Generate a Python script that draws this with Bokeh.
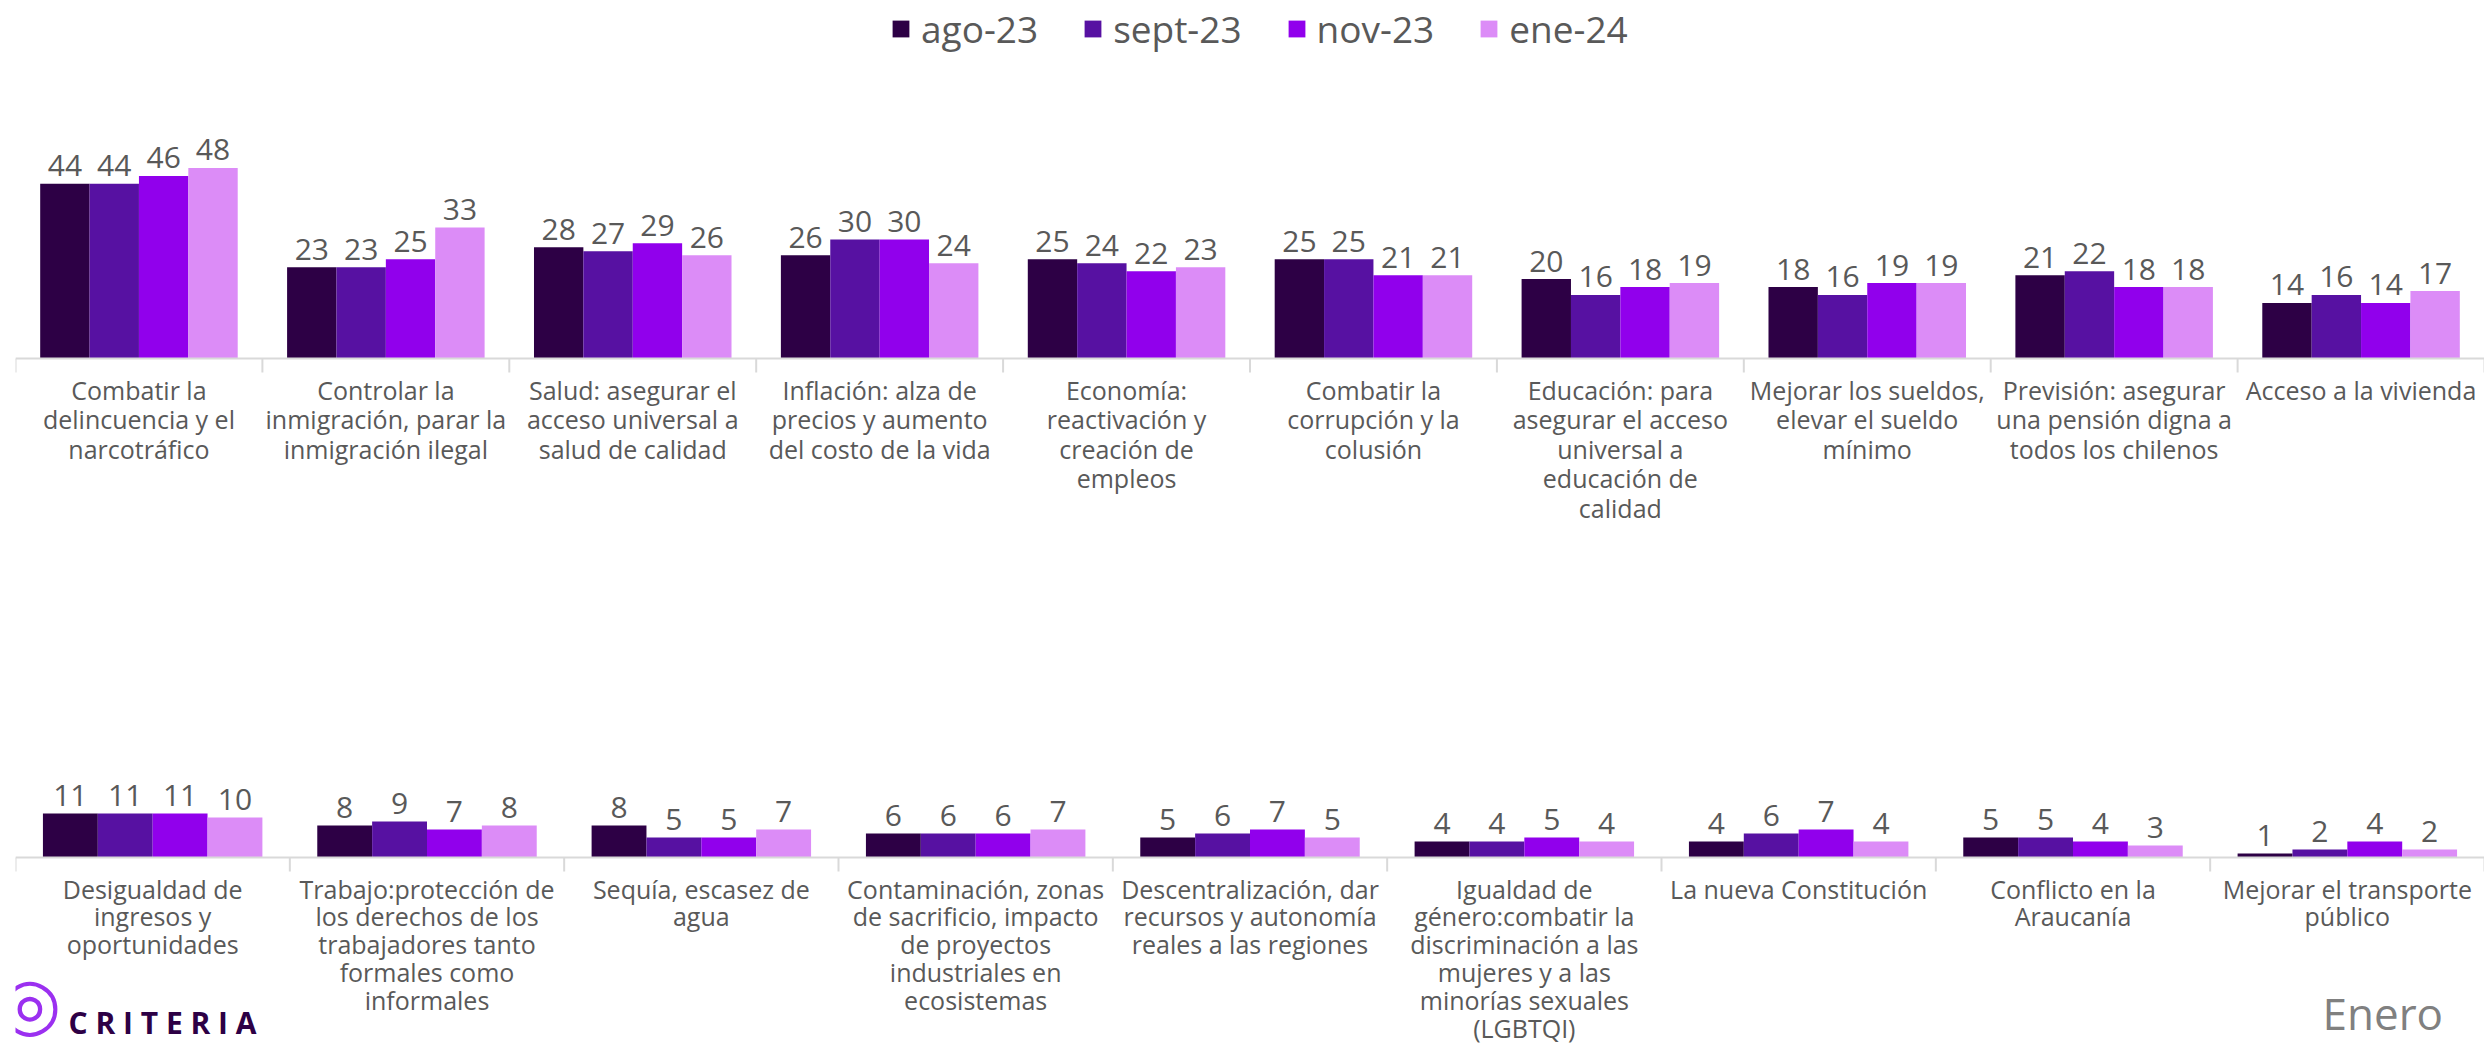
from bokeh.plotting import figure
from bokeh.models import Range1d, Legend, LegendItem, Label, ColumnDataSource, Span
from bokeh.layouts import column
from bokeh.embed import file_html
from bokeh.resources import INLINE
from bokeh.core.properties import value

# ---------------- data ----------------
series = ["ago-23", "sept-23", "nov-23", "ene-24"]
colors = ["#2d0045", "#5711a2", "#9100ec", "#dc8cf7"]

top_labels = [
    "Combatir la\ndelincuencia y el\nnarcotráfico",
    "Controlar la\ninmigración, parar la\ninmigración ilegal",
    "Salud: asegurar el\nacceso universal a\nsalud de calidad",
    "Inflación: alza de\nprecios y aumento\ndel costo de la vida",
    "Economía:\nreactivación y\ncreación de\nempleos",
    "Combatir la\ncorrupción y la\ncolusión",
    "Educación: para\nasegurar el acceso\nuniversal a\neducación de\ncalidad",
    "Mejorar los sueldos,\nelevar el sueldo\nmínimo",
    "Previsión: asegurar\nuna pensión digna a\ntodos los chilenos",
    "Acceso a la vivienda",
]
top_ago = [44, 23, 28, 26, 25, 25, 20, 18, 21, 14]
top_sep = [44, 23, 27, 30, 24, 25, 16, 16, 22, 16]
top_nov = [46, 25, 29, 30, 22, 21, 18, 19, 18, 14]
top_ene = [48, 33, 26, 24, 23, 21, 19, 19, 18, 17]

bot_labels = [
    "Desigualdad de\ningresos y\noportunidades",
    "Trabajo:protección de\nlos derechos de los\ntrabajadores tanto\nformales como\ninformales",
    "Sequía, escasez de\nagua",
    "Contaminación, zonas\nde sacrificio, impacto\nde proyectos\nindustriales en\necosistemas",
    "Descentralización, dar\nrecursos y autonomía\nreales a las regiones",
    "Igualdad de\ngénero:combatir la\ndiscriminación a las\nmujeres y a las\nminorías sexuales\n(LGBTQI)",
    "La nueva Constitución",
    "Conflicto en la\nAraucanía",
    "Mejorar el transporte\npúblico",
]
bot_ago = [11, 8, 8, 6, 5, 4, 4, 5, 1]
bot_sep = [11, 9, 5, 6, 6, 4, 6, 5, 2]
bot_nov = [11, 7, 5, 6, 7, 5, 7, 4, 4]
bot_ene = [10, 8, 7, 7, 5, 4, 4, 3, 2]

TEXT = "#595959"
AXIS = "#d9d9d9"
W = 2484
BAR_W = 0.2
TICK_PX = 14


def make_panel(labels, vals, height, above_px, px_per_unit, lab_offset, lab_lh):
    n = len(labels)
    below_px = height - above_px
    p = figure(width=W, height=height, output_backend="svg", toolbar_location=None,
               x_range=Range1d(-0.5, n - 0.5),
               y_range=Range1d(-below_px / px_per_unit, above_px / px_per_unit),
               min_border_left=15, min_border_right=0, min_border_top=0,
               min_border_bottom=0,
               x_axis_location=None, y_axis_location=None,
               outline_line_color=None, background_fill_color="white")
    p.grid.visible = False
    idx = list(range(n))

    # baseline (axis line) and category separators
    p.add_layout(Span(location=0, dimension="width", line_color=AXIS, line_width=2))
    bounds = [i - 0.5 for i in range(n + 1)]
    p.segment(x0=bounds, y0=[0] * len(bounds), x1=bounds,
              y1=[-TICK_PX / px_per_unit] * len(bounds),
              line_color=AXIS, line_width=2)

    rends = []
    for j, (col, v) in enumerate(zip(colors, vals)):
        xs = [i + (j - 1.5) * BAR_W for i in idx]
        src = ColumnDataSource(dict(x=xs, top=v, lab=[str(t) for t in v]))
        r = p.vbar(x="x", top="top", bottom=0, width=BAR_W, source=src,
                   fill_color=col, line_color=None)
        p.text(x="x", y="top", text="lab", source=src, text_align="center",
               text_baseline="alphabetic", y_offset=-18,
               text_font=value("Open Sans"), text_font_size="30px",
               text_color=TEXT)
        rends.append(r)

    # category labels
    p.text(x=idx, y=[0] * n, text=labels, text_align="center",
           text_baseline="top", y_offset=lab_offset,
           text_font=value("Open Sans"), text_font_size="25px",
           text_color=TEXT, text_line_height=lab_lh)
    return p, rends


top, rends = make_panel(top_labels, [top_ago, top_sep, top_nov, top_ene],
                        height=526, above_px=358, px_per_unit=3.97,
                        lab_offset=14, lab_lh=0.87)

legend = Legend(items=[LegendItem(label=s, renderers=[r]) for s, r in zip(series, rends)],
                orientation="horizontal", location=(875, 472), padding=0, margin=0,
                spacing=44, glyph_width=21, glyph_height=21, label_standoff=10,
                label_text_font="Open Sans", label_text_font_size="37px",
                label_text_color=TEXT, border_line_color=None,
                background_fill_alpha=0)
top.add_layout(legend)

bot, _ = make_panel(bot_labels, [bot_ago, bot_sep, bot_nov, bot_ene],
                    height=518, above_px=331, px_per_unit=4.0,
                    lab_offset=14, lab_lh=0.82)

bot.add_layout(Label(x=2307, y=2, x_units="screen", y_units="screen",
                     text="Enero", text_font="Open Sans", text_font_size="44px",
                     text_color="#808080", text_align="left",
                     text_baseline="bottom"))
bot.add_layout(Label(x=-17, y=0, x_units="screen", y_units="screen",
                     text="◎", text_font="DejaVu Sans", text_font_size="72px",
                     text_color="#9b30f0", text_align="left",
                     text_baseline="bottom"))
bot.add_layout(Label(x=53, y=2, x_units="screen", y_units="screen",
                     text="C R I T E R I A", text_font="Open Sans",
                     text_font_size="30px", text_font_style="bold",
                     text_color="#2d0045", text_align="left",
                     text_baseline="bottom"))

layout = column(top, bot, spacing=0)
open("out.html", "w").write(file_html(layout, INLINE))
